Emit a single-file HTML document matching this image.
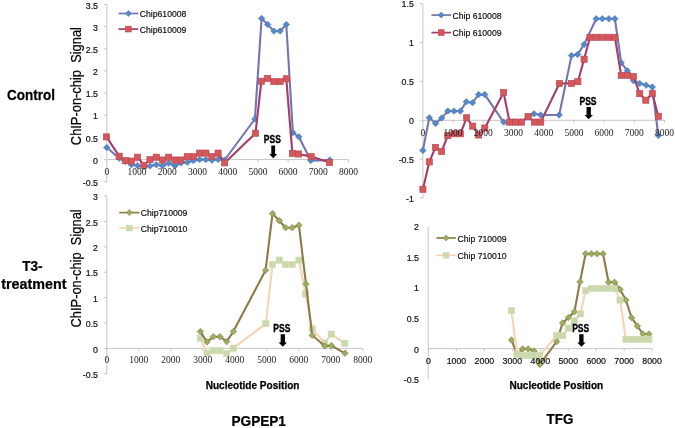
<!DOCTYPE html>
<html lang="en"><head><meta charset="utf-8"><title>ChIP-on-chip signal</title>
<style>
html,body{margin:0;padding:0;background:#fff;}
body{width:675px;height:428px;overflow:hidden;font-family:"Liberation Sans",sans-serif;}
svg{display:block;filter:blur(0.7px);}
</style></head><body>
<svg width="675" height="428" viewBox="0 0 675 428">
<rect width="675" height="428" fill="#fff"/>
<path d="M106.8 4.409999999999997V181.76999999999998" stroke="#c6c6c6" stroke-width="1" fill="none"/>
<path d="M106.8 159.6H348.6" stroke="#c6c6c6" stroke-width="1" fill="none"/>
<path d="M103.8 4.41H106.8" stroke="#c6c6c6" stroke-width="1" fill="none"/>
<path d="M103.8 26.58H106.8" stroke="#c6c6c6" stroke-width="1" fill="none"/>
<path d="M103.8 48.75H106.8" stroke="#c6c6c6" stroke-width="1" fill="none"/>
<path d="M103.8 70.92H106.8" stroke="#c6c6c6" stroke-width="1" fill="none"/>
<path d="M103.8 93.09H106.8" stroke="#c6c6c6" stroke-width="1" fill="none"/>
<path d="M103.8 115.26H106.8" stroke="#c6c6c6" stroke-width="1" fill="none"/>
<path d="M103.8 137.43H106.8" stroke="#c6c6c6" stroke-width="1" fill="none"/>
<path d="M103.8 159.6H106.8" stroke="#c6c6c6" stroke-width="1" fill="none"/>
<path d="M103.8 181.77H106.8" stroke="#c6c6c6" stroke-width="1" fill="none"/>
<path d="M106.8 159.6V162.2" stroke="#c6c6c6" stroke-width="1" fill="none"/>
<path d="M137.02 159.6V162.2" stroke="#c6c6c6" stroke-width="1" fill="none"/>
<path d="M167.24 159.6V162.2" stroke="#c6c6c6" stroke-width="1" fill="none"/>
<path d="M197.46 159.6V162.2" stroke="#c6c6c6" stroke-width="1" fill="none"/>
<path d="M227.68 159.6V162.2" stroke="#c6c6c6" stroke-width="1" fill="none"/>
<path d="M257.9 159.6V162.2" stroke="#c6c6c6" stroke-width="1" fill="none"/>
<path d="M288.12 159.6V162.2" stroke="#c6c6c6" stroke-width="1" fill="none"/>
<path d="M318.34 159.6V162.2" stroke="#c6c6c6" stroke-width="1" fill="none"/>
<path d="M348.56 159.6V162.2" stroke="#c6c6c6" stroke-width="1" fill="none"/>
<path d="M106.8 147.5L119.2 158.2L125.5 161.5L131.4 164.7L137.6 165.7L143.9 166.5L150 165.9L156.3 164.7L162.5 165.7L168.7 163.2L174.9 165.7L181 162.9L187.3 162.3L193.4 160.6L199.7 159.4L205.9 159.6L211.9 160.3L218.1 159.4L224.6 160L254.9 119L261.6 18.4L267.7 24.5L273.9 31.1L280.1 31.1L286.3 24.5L292.9 132.6L298.8 136.8L310.8 160.6L329.8 160" fill="none" stroke="#7077b2" stroke-width="2.1" stroke-linejoin="round" stroke-linecap="round"/>
<path d="M106.8 144.25L110.05 147.5L106.8 150.75L103.55 147.5Z" fill="#5688c7" stroke="#4f7ab8" stroke-width="0.6"/>
<path d="M119.2 154.95L122.45 158.2L119.2 161.45L115.95 158.2Z" fill="#5688c7" stroke="#4f7ab8" stroke-width="0.6"/>
<path d="M125.5 158.25L128.75 161.5L125.5 164.75L122.25 161.5Z" fill="#5688c7" stroke="#4f7ab8" stroke-width="0.6"/>
<path d="M131.4 161.45L134.65 164.7L131.4 167.95L128.15 164.7Z" fill="#5688c7" stroke="#4f7ab8" stroke-width="0.6"/>
<path d="M137.6 162.45L140.85 165.7L137.6 168.95L134.35 165.7Z" fill="#5688c7" stroke="#4f7ab8" stroke-width="0.6"/>
<path d="M143.9 163.25L147.15 166.5L143.9 169.75L140.65 166.5Z" fill="#5688c7" stroke="#4f7ab8" stroke-width="0.6"/>
<path d="M150 162.65L153.25 165.9L150 169.15L146.75 165.9Z" fill="#5688c7" stroke="#4f7ab8" stroke-width="0.6"/>
<path d="M156.3 161.45L159.55 164.7L156.3 167.95L153.05 164.7Z" fill="#5688c7" stroke="#4f7ab8" stroke-width="0.6"/>
<path d="M162.5 162.45L165.75 165.7L162.5 168.95L159.25 165.7Z" fill="#5688c7" stroke="#4f7ab8" stroke-width="0.6"/>
<path d="M168.7 159.95L171.95 163.2L168.7 166.45L165.45 163.2Z" fill="#5688c7" stroke="#4f7ab8" stroke-width="0.6"/>
<path d="M174.9 162.45L178.15 165.7L174.9 168.95L171.65 165.7Z" fill="#5688c7" stroke="#4f7ab8" stroke-width="0.6"/>
<path d="M181 159.65L184.25 162.9L181 166.15L177.75 162.9Z" fill="#5688c7" stroke="#4f7ab8" stroke-width="0.6"/>
<path d="M187.3 159.05L190.55 162.3L187.3 165.55L184.05 162.3Z" fill="#5688c7" stroke="#4f7ab8" stroke-width="0.6"/>
<path d="M193.4 157.35L196.65 160.6L193.4 163.85L190.15 160.6Z" fill="#5688c7" stroke="#4f7ab8" stroke-width="0.6"/>
<path d="M199.7 156.15L202.95 159.4L199.7 162.65L196.45 159.4Z" fill="#5688c7" stroke="#4f7ab8" stroke-width="0.6"/>
<path d="M205.9 156.35L209.15 159.6L205.9 162.85L202.65 159.6Z" fill="#5688c7" stroke="#4f7ab8" stroke-width="0.6"/>
<path d="M211.9 157.05L215.15 160.3L211.9 163.55L208.65 160.3Z" fill="#5688c7" stroke="#4f7ab8" stroke-width="0.6"/>
<path d="M218.1 156.15L221.35 159.4L218.1 162.65L214.85 159.4Z" fill="#5688c7" stroke="#4f7ab8" stroke-width="0.6"/>
<path d="M224.6 156.75L227.85 160L224.6 163.25L221.35 160Z" fill="#5688c7" stroke="#4f7ab8" stroke-width="0.6"/>
<path d="M254.9 115.75L258.15 119L254.9 122.25L251.65 119Z" fill="#5688c7" stroke="#4f7ab8" stroke-width="0.6"/>
<path d="M261.6 15.15L264.85 18.4L261.6 21.65L258.35 18.4Z" fill="#5688c7" stroke="#4f7ab8" stroke-width="0.6"/>
<path d="M267.7 21.25L270.95 24.5L267.7 27.75L264.45 24.5Z" fill="#5688c7" stroke="#4f7ab8" stroke-width="0.6"/>
<path d="M273.9 27.85L277.15 31.1L273.9 34.35L270.65 31.1Z" fill="#5688c7" stroke="#4f7ab8" stroke-width="0.6"/>
<path d="M280.1 27.85L283.35 31.1L280.1 34.35L276.85 31.1Z" fill="#5688c7" stroke="#4f7ab8" stroke-width="0.6"/>
<path d="M286.3 21.25L289.55 24.5L286.3 27.75L283.05 24.5Z" fill="#5688c7" stroke="#4f7ab8" stroke-width="0.6"/>
<path d="M292.9 129.35L296.15 132.6L292.9 135.85L289.65 132.6Z" fill="#5688c7" stroke="#4f7ab8" stroke-width="0.6"/>
<path d="M298.8 133.55L302.05 136.8L298.8 140.05L295.55 136.8Z" fill="#5688c7" stroke="#4f7ab8" stroke-width="0.6"/>
<path d="M310.8 157.35L314.05 160.6L310.8 163.85L307.55 160.6Z" fill="#5688c7" stroke="#4f7ab8" stroke-width="0.6"/>
<path d="M329.8 156.75L333.05 160L329.8 163.25L326.55 160Z" fill="#5688c7" stroke="#4f7ab8" stroke-width="0.6"/>
<path d="M106.5 136.9L119.2 156.2L125.5 160.6L131.4 161.1L137.6 157.2L143.9 165.3L150 159.6L156.3 157.2L162.5 160L168.6 157.2L174.9 160L181 160L187.3 156.6L193.4 156.6L199.7 153.1L205.9 153.1L211.9 156.6L218.1 153.1L224.6 162.9L255.5 133.2L261.4 81.2L267.7 78.4L273.9 81.6L280.1 81.6L286.3 78.8L292.4 153.4L298.6 154L311.1 156.6L329.5 162.6" fill="none" stroke="#a63c68" stroke-width="2.1" stroke-linejoin="round" stroke-linecap="round"/>
<rect x="103.4" y="133.8" width="6.2" height="6.2" fill="#d4585a" stroke="#b8475a" stroke-width="0.6"/>
<rect x="116.1" y="153.1" width="6.2" height="6.2" fill="#d4585a" stroke="#b8475a" stroke-width="0.6"/>
<rect x="122.4" y="157.5" width="6.2" height="6.2" fill="#d4585a" stroke="#b8475a" stroke-width="0.6"/>
<rect x="128.3" y="158" width="6.2" height="6.2" fill="#d4585a" stroke="#b8475a" stroke-width="0.6"/>
<rect x="134.5" y="154.1" width="6.2" height="6.2" fill="#d4585a" stroke="#b8475a" stroke-width="0.6"/>
<rect x="140.8" y="162.2" width="6.2" height="6.2" fill="#d4585a" stroke="#b8475a" stroke-width="0.6"/>
<rect x="146.9" y="156.5" width="6.2" height="6.2" fill="#d4585a" stroke="#b8475a" stroke-width="0.6"/>
<rect x="153.2" y="154.1" width="6.2" height="6.2" fill="#d4585a" stroke="#b8475a" stroke-width="0.6"/>
<rect x="159.4" y="156.9" width="6.2" height="6.2" fill="#d4585a" stroke="#b8475a" stroke-width="0.6"/>
<rect x="165.5" y="154.1" width="6.2" height="6.2" fill="#d4585a" stroke="#b8475a" stroke-width="0.6"/>
<rect x="171.8" y="156.9" width="6.2" height="6.2" fill="#d4585a" stroke="#b8475a" stroke-width="0.6"/>
<rect x="177.9" y="156.9" width="6.2" height="6.2" fill="#d4585a" stroke="#b8475a" stroke-width="0.6"/>
<rect x="184.2" y="153.5" width="6.2" height="6.2" fill="#d4585a" stroke="#b8475a" stroke-width="0.6"/>
<rect x="190.3" y="153.5" width="6.2" height="6.2" fill="#d4585a" stroke="#b8475a" stroke-width="0.6"/>
<rect x="196.6" y="150" width="6.2" height="6.2" fill="#d4585a" stroke="#b8475a" stroke-width="0.6"/>
<rect x="202.8" y="150" width="6.2" height="6.2" fill="#d4585a" stroke="#b8475a" stroke-width="0.6"/>
<rect x="208.8" y="153.5" width="6.2" height="6.2" fill="#d4585a" stroke="#b8475a" stroke-width="0.6"/>
<rect x="215" y="150" width="6.2" height="6.2" fill="#d4585a" stroke="#b8475a" stroke-width="0.6"/>
<rect x="221.5" y="159.8" width="6.2" height="6.2" fill="#d4585a" stroke="#b8475a" stroke-width="0.6"/>
<rect x="252.4" y="130.1" width="6.2" height="6.2" fill="#d4585a" stroke="#b8475a" stroke-width="0.6"/>
<rect x="258.3" y="78.1" width="6.2" height="6.2" fill="#d4585a" stroke="#b8475a" stroke-width="0.6"/>
<rect x="264.6" y="75.3" width="6.2" height="6.2" fill="#d4585a" stroke="#b8475a" stroke-width="0.6"/>
<rect x="270.8" y="78.5" width="6.2" height="6.2" fill="#d4585a" stroke="#b8475a" stroke-width="0.6"/>
<rect x="277" y="78.5" width="6.2" height="6.2" fill="#d4585a" stroke="#b8475a" stroke-width="0.6"/>
<rect x="283.2" y="75.7" width="6.2" height="6.2" fill="#d4585a" stroke="#b8475a" stroke-width="0.6"/>
<rect x="289.3" y="150.3" width="6.2" height="6.2" fill="#d4585a" stroke="#b8475a" stroke-width="0.6"/>
<rect x="295.5" y="150.9" width="6.2" height="6.2" fill="#d4585a" stroke="#b8475a" stroke-width="0.6"/>
<rect x="308" y="153.5" width="6.2" height="6.2" fill="#d4585a" stroke="#b8475a" stroke-width="0.6"/>
<rect x="326.4" y="159.5" width="6.2" height="6.2" fill="#d4585a" stroke="#b8475a" stroke-width="0.6"/>
<path d="M118.5 13.5L138.2 13.5" stroke="#7077b2" stroke-width="1.7" fill="none"/>
<path d="M128.35 10.5L131.35 13.5L128.35 16.5L125.35 13.5Z" fill="#5688c7" stroke="#4f7ab8" stroke-width="0.6"/>
<text x="139.8" y="17.1" font-family='"Liberation Sans", sans-serif' font-size="8.65" fill="#0d0d0d" stroke="#0d0d0d" stroke-width="0.18">Chip610008</text>
<path d="M118.5 29.1L138.2 29.1" stroke="#a63c68" stroke-width="1.7" fill="none"/>
<rect x="125.45" y="26.2" width="5.8" height="5.8" fill="#d4585a" stroke="#b8475a" stroke-width="0.6"/>
<text x="139.8" y="32.7" font-family='"Liberation Sans", sans-serif' font-size="8.65" fill="#0d0d0d" stroke="#0d0d0d" stroke-width="0.18">Chip610009</text>
<path d="M422.9 3.6000000000000085V198.1" stroke="#c6c6c6" stroke-width="1" fill="none"/>
<path d="M422.9 120.3H664.6" stroke="#c6c6c6" stroke-width="1" fill="none"/>
<path d="M419.9 3.6H422.9" stroke="#c6c6c6" stroke-width="1" fill="none"/>
<path d="M419.9 42.5H422.9" stroke="#c6c6c6" stroke-width="1" fill="none"/>
<path d="M419.9 81.4H422.9" stroke="#c6c6c6" stroke-width="1" fill="none"/>
<path d="M419.9 120.3H422.9" stroke="#c6c6c6" stroke-width="1" fill="none"/>
<path d="M419.9 159.2H422.9" stroke="#c6c6c6" stroke-width="1" fill="none"/>
<path d="M419.9 198.1H422.9" stroke="#c6c6c6" stroke-width="1" fill="none"/>
<path d="M422.9 120.3V122.9" stroke="#c6c6c6" stroke-width="1" fill="none"/>
<path d="M453.1 120.3V122.9" stroke="#c6c6c6" stroke-width="1" fill="none"/>
<path d="M483.3 120.3V122.9" stroke="#c6c6c6" stroke-width="1" fill="none"/>
<path d="M513.5 120.3V122.9" stroke="#c6c6c6" stroke-width="1" fill="none"/>
<path d="M543.7 120.3V122.9" stroke="#c6c6c6" stroke-width="1" fill="none"/>
<path d="M573.9 120.3V122.9" stroke="#c6c6c6" stroke-width="1" fill="none"/>
<path d="M604.1 120.3V122.9" stroke="#c6c6c6" stroke-width="1" fill="none"/>
<path d="M634.3 120.3V122.9" stroke="#c6c6c6" stroke-width="1" fill="none"/>
<path d="M664.5 120.3V122.9" stroke="#c6c6c6" stroke-width="1" fill="none"/>
<path d="M422.9 150.4L429.3 117.8L435.5 123.4L441.6 118.1L447.8 111.1L454 111.1L460.4 111.1L466.3 101.8L472.5 102.7L478.6 94.6L484.8 94.6L503.6 122.1L509.6 122.1L515.5 122.1L521.4 122.1L528.1 117L534 113.8L540.7 115L559.2 115L571.5 55.6L577.7 54.4L584.1 44.4L596.2 18.8L602.3 18.8L608.8 18.8L614.9 18.8L621.2 62.7L627.3 70.7L633.5 80.7L639.7 83.4L646.1 85.2L652.3 87L658.3 135.6" fill="none" stroke="#7077b2" stroke-width="2.1" stroke-linejoin="round" stroke-linecap="round"/>
<path d="M422.9 147.15L426.15 150.4L422.9 153.65L419.65 150.4Z" fill="#5688c7" stroke="#4f7ab8" stroke-width="0.6"/>
<path d="M429.3 114.55L432.55 117.8L429.3 121.05L426.05 117.8Z" fill="#5688c7" stroke="#4f7ab8" stroke-width="0.6"/>
<path d="M435.5 120.15L438.75 123.4L435.5 126.65L432.25 123.4Z" fill="#5688c7" stroke="#4f7ab8" stroke-width="0.6"/>
<path d="M441.6 114.85L444.85 118.1L441.6 121.35L438.35 118.1Z" fill="#5688c7" stroke="#4f7ab8" stroke-width="0.6"/>
<path d="M447.8 107.85L451.05 111.1L447.8 114.35L444.55 111.1Z" fill="#5688c7" stroke="#4f7ab8" stroke-width="0.6"/>
<path d="M454 107.85L457.25 111.1L454 114.35L450.75 111.1Z" fill="#5688c7" stroke="#4f7ab8" stroke-width="0.6"/>
<path d="M460.4 107.85L463.65 111.1L460.4 114.35L457.15 111.1Z" fill="#5688c7" stroke="#4f7ab8" stroke-width="0.6"/>
<path d="M466.3 98.55L469.55 101.8L466.3 105.05L463.05 101.8Z" fill="#5688c7" stroke="#4f7ab8" stroke-width="0.6"/>
<path d="M472.5 99.45L475.75 102.7L472.5 105.95L469.25 102.7Z" fill="#5688c7" stroke="#4f7ab8" stroke-width="0.6"/>
<path d="M478.6 91.35L481.85 94.6L478.6 97.85L475.35 94.6Z" fill="#5688c7" stroke="#4f7ab8" stroke-width="0.6"/>
<path d="M484.8 91.35L488.05 94.6L484.8 97.85L481.55 94.6Z" fill="#5688c7" stroke="#4f7ab8" stroke-width="0.6"/>
<path d="M503.6 118.85L506.85 122.1L503.6 125.35L500.35 122.1Z" fill="#5688c7" stroke="#4f7ab8" stroke-width="0.6"/>
<path d="M509.6 118.85L512.85 122.1L509.6 125.35L506.35 122.1Z" fill="#5688c7" stroke="#4f7ab8" stroke-width="0.6"/>
<path d="M515.5 118.85L518.75 122.1L515.5 125.35L512.25 122.1Z" fill="#5688c7" stroke="#4f7ab8" stroke-width="0.6"/>
<path d="M521.4 118.85L524.65 122.1L521.4 125.35L518.15 122.1Z" fill="#5688c7" stroke="#4f7ab8" stroke-width="0.6"/>
<path d="M528.1 113.75L531.35 117L528.1 120.25L524.85 117Z" fill="#5688c7" stroke="#4f7ab8" stroke-width="0.6"/>
<path d="M534 110.55L537.25 113.8L534 117.05L530.75 113.8Z" fill="#5688c7" stroke="#4f7ab8" stroke-width="0.6"/>
<path d="M540.7 111.75L543.95 115L540.7 118.25L537.45 115Z" fill="#5688c7" stroke="#4f7ab8" stroke-width="0.6"/>
<path d="M559.2 111.75L562.45 115L559.2 118.25L555.95 115Z" fill="#5688c7" stroke="#4f7ab8" stroke-width="0.6"/>
<path d="M571.5 52.35L574.75 55.6L571.5 58.85L568.25 55.6Z" fill="#5688c7" stroke="#4f7ab8" stroke-width="0.6"/>
<path d="M577.7 51.15L580.95 54.4L577.7 57.65L574.45 54.4Z" fill="#5688c7" stroke="#4f7ab8" stroke-width="0.6"/>
<path d="M584.1 41.15L587.35 44.4L584.1 47.65L580.85 44.4Z" fill="#5688c7" stroke="#4f7ab8" stroke-width="0.6"/>
<path d="M596.2 15.55L599.45 18.8L596.2 22.05L592.95 18.8Z" fill="#5688c7" stroke="#4f7ab8" stroke-width="0.6"/>
<path d="M602.3 15.55L605.55 18.8L602.3 22.05L599.05 18.8Z" fill="#5688c7" stroke="#4f7ab8" stroke-width="0.6"/>
<path d="M608.8 15.55L612.05 18.8L608.8 22.05L605.55 18.8Z" fill="#5688c7" stroke="#4f7ab8" stroke-width="0.6"/>
<path d="M614.9 15.55L618.15 18.8L614.9 22.05L611.65 18.8Z" fill="#5688c7" stroke="#4f7ab8" stroke-width="0.6"/>
<path d="M621.2 59.45L624.45 62.7L621.2 65.95L617.95 62.7Z" fill="#5688c7" stroke="#4f7ab8" stroke-width="0.6"/>
<path d="M627.3 67.45L630.55 70.7L627.3 73.95L624.05 70.7Z" fill="#5688c7" stroke="#4f7ab8" stroke-width="0.6"/>
<path d="M633.5 77.45L636.75 80.7L633.5 83.95L630.25 80.7Z" fill="#5688c7" stroke="#4f7ab8" stroke-width="0.6"/>
<path d="M639.7 80.15L642.95 83.4L639.7 86.65L636.45 83.4Z" fill="#5688c7" stroke="#4f7ab8" stroke-width="0.6"/>
<path d="M646.1 81.95L649.35 85.2L646.1 88.45L642.85 85.2Z" fill="#5688c7" stroke="#4f7ab8" stroke-width="0.6"/>
<path d="M652.3 83.75L655.55 87L652.3 90.25L649.05 87Z" fill="#5688c7" stroke="#4f7ab8" stroke-width="0.6"/>
<path d="M658.3 132.35L661.55 135.6L658.3 138.85L655.05 135.6Z" fill="#5688c7" stroke="#4f7ab8" stroke-width="0.6"/>
<path d="M422.9 189.3L429.3 161.9L435.5 147.4L441.6 151.5L447.8 135.6L454 133.8L460.4 133.8L466.6 117.8L472.7 126.1L478.6 135L484.8 128L503.6 92.5L509.6 122.1L515.5 122.1L521.4 122.1L528.1 116.5L534.4 122.1L540.7 122.1L559.4 83.5L571.5 83.4L577.9 81.7L584.1 59.2L590 37.3L596.2 37.3L602.3 37.3L608.8 37.3L614.9 37.3L621.2 75.4L627.3 75.4L633.5 76.5L639.7 93.6L645.8 100.2L652.3 93.6L658.3 116.3" fill="none" stroke="#a63c68" stroke-width="2.1" stroke-linejoin="round" stroke-linecap="round"/>
<rect x="419.8" y="186.2" width="6.2" height="6.2" fill="#d4585a" stroke="#b8475a" stroke-width="0.6"/>
<rect x="426.2" y="158.8" width="6.2" height="6.2" fill="#d4585a" stroke="#b8475a" stroke-width="0.6"/>
<rect x="432.4" y="144.3" width="6.2" height="6.2" fill="#d4585a" stroke="#b8475a" stroke-width="0.6"/>
<rect x="438.5" y="148.4" width="6.2" height="6.2" fill="#d4585a" stroke="#b8475a" stroke-width="0.6"/>
<rect x="444.7" y="132.5" width="6.2" height="6.2" fill="#d4585a" stroke="#b8475a" stroke-width="0.6"/>
<rect x="450.9" y="130.7" width="6.2" height="6.2" fill="#d4585a" stroke="#b8475a" stroke-width="0.6"/>
<rect x="457.3" y="130.7" width="6.2" height="6.2" fill="#d4585a" stroke="#b8475a" stroke-width="0.6"/>
<rect x="463.5" y="114.7" width="6.2" height="6.2" fill="#d4585a" stroke="#b8475a" stroke-width="0.6"/>
<rect x="469.6" y="123" width="6.2" height="6.2" fill="#d4585a" stroke="#b8475a" stroke-width="0.6"/>
<rect x="475.5" y="131.9" width="6.2" height="6.2" fill="#d4585a" stroke="#b8475a" stroke-width="0.6"/>
<rect x="481.7" y="124.9" width="6.2" height="6.2" fill="#d4585a" stroke="#b8475a" stroke-width="0.6"/>
<rect x="500.5" y="89.4" width="6.2" height="6.2" fill="#d4585a" stroke="#b8475a" stroke-width="0.6"/>
<rect x="506.5" y="119" width="6.2" height="6.2" fill="#d4585a" stroke="#b8475a" stroke-width="0.6"/>
<rect x="512.4" y="119" width="6.2" height="6.2" fill="#d4585a" stroke="#b8475a" stroke-width="0.6"/>
<rect x="518.3" y="119" width="6.2" height="6.2" fill="#d4585a" stroke="#b8475a" stroke-width="0.6"/>
<rect x="525" y="113.4" width="6.2" height="6.2" fill="#d4585a" stroke="#b8475a" stroke-width="0.6"/>
<rect x="531.3" y="119" width="6.2" height="6.2" fill="#d4585a" stroke="#b8475a" stroke-width="0.6"/>
<rect x="537.6" y="119" width="6.2" height="6.2" fill="#d4585a" stroke="#b8475a" stroke-width="0.6"/>
<rect x="556.3" y="80.4" width="6.2" height="6.2" fill="#d4585a" stroke="#b8475a" stroke-width="0.6"/>
<rect x="568.4" y="80.3" width="6.2" height="6.2" fill="#d4585a" stroke="#b8475a" stroke-width="0.6"/>
<rect x="574.8" y="78.6" width="6.2" height="6.2" fill="#d4585a" stroke="#b8475a" stroke-width="0.6"/>
<rect x="581" y="56.1" width="6.2" height="6.2" fill="#d4585a" stroke="#b8475a" stroke-width="0.6"/>
<rect x="586.9" y="34.2" width="6.2" height="6.2" fill="#d4585a" stroke="#b8475a" stroke-width="0.6"/>
<rect x="593.1" y="34.2" width="6.2" height="6.2" fill="#d4585a" stroke="#b8475a" stroke-width="0.6"/>
<rect x="599.2" y="34.2" width="6.2" height="6.2" fill="#d4585a" stroke="#b8475a" stroke-width="0.6"/>
<rect x="605.7" y="34.2" width="6.2" height="6.2" fill="#d4585a" stroke="#b8475a" stroke-width="0.6"/>
<rect x="611.8" y="34.2" width="6.2" height="6.2" fill="#d4585a" stroke="#b8475a" stroke-width="0.6"/>
<rect x="618.1" y="72.3" width="6.2" height="6.2" fill="#d4585a" stroke="#b8475a" stroke-width="0.6"/>
<rect x="624.2" y="72.3" width="6.2" height="6.2" fill="#d4585a" stroke="#b8475a" stroke-width="0.6"/>
<rect x="630.4" y="73.4" width="6.2" height="6.2" fill="#d4585a" stroke="#b8475a" stroke-width="0.6"/>
<rect x="636.6" y="90.5" width="6.2" height="6.2" fill="#d4585a" stroke="#b8475a" stroke-width="0.6"/>
<rect x="642.7" y="97.1" width="6.2" height="6.2" fill="#d4585a" stroke="#b8475a" stroke-width="0.6"/>
<rect x="649.2" y="90.5" width="6.2" height="6.2" fill="#d4585a" stroke="#b8475a" stroke-width="0.6"/>
<rect x="655.2" y="113.2" width="6.2" height="6.2" fill="#d4585a" stroke="#b8475a" stroke-width="0.6"/>
<path d="M431.4 15.1L451 15.1" stroke="#7077b2" stroke-width="1.7" fill="none"/>
<path d="M441.2 12.1L444.2 15.1L441.2 18.1L438.2 15.1Z" fill="#5688c7" stroke="#4f7ab8" stroke-width="0.6"/>
<text x="452.6" y="18.7" font-family='"Liberation Sans", sans-serif' font-size="8.65" fill="#0d0d0d" stroke="#0d0d0d" stroke-width="0.18">Chip 610008</text>
<path d="M431.4 32.6L451 32.6" stroke="#a63c68" stroke-width="1.7" fill="none"/>
<rect x="438.3" y="29.7" width="5.8" height="5.8" fill="#d4585a" stroke="#b8475a" stroke-width="0.6"/>
<text x="452.6" y="36.2" font-family='"Liberation Sans", sans-serif' font-size="8.65" fill="#0d0d0d" stroke="#0d0d0d" stroke-width="0.18">Chip 610009</text>
<path d="M106.8 196.0V373.79999999999995" stroke="#c6c6c6" stroke-width="1" fill="none"/>
<path d="M106.8 348.4H362.8" stroke="#c6c6c6" stroke-width="1" fill="none"/>
<path d="M103.8 196H106.8" stroke="#c6c6c6" stroke-width="1" fill="none"/>
<path d="M103.8 221.4H106.8" stroke="#c6c6c6" stroke-width="1" fill="none"/>
<path d="M103.8 246.8H106.8" stroke="#c6c6c6" stroke-width="1" fill="none"/>
<path d="M103.8 272.2H106.8" stroke="#c6c6c6" stroke-width="1" fill="none"/>
<path d="M103.8 297.6H106.8" stroke="#c6c6c6" stroke-width="1" fill="none"/>
<path d="M103.8 323H106.8" stroke="#c6c6c6" stroke-width="1" fill="none"/>
<path d="M103.8 348.4H106.8" stroke="#c6c6c6" stroke-width="1" fill="none"/>
<path d="M103.8 373.8H106.8" stroke="#c6c6c6" stroke-width="1" fill="none"/>
<path d="M106.8 348.4V351" stroke="#c6c6c6" stroke-width="1" fill="none"/>
<path d="M138.8 348.4V351" stroke="#c6c6c6" stroke-width="1" fill="none"/>
<path d="M170.8 348.4V351" stroke="#c6c6c6" stroke-width="1" fill="none"/>
<path d="M202.8 348.4V351" stroke="#c6c6c6" stroke-width="1" fill="none"/>
<path d="M234.8 348.4V351" stroke="#c6c6c6" stroke-width="1" fill="none"/>
<path d="M266.8 348.4V351" stroke="#c6c6c6" stroke-width="1" fill="none"/>
<path d="M298.8 348.4V351" stroke="#c6c6c6" stroke-width="1" fill="none"/>
<path d="M330.8 348.4V351" stroke="#c6c6c6" stroke-width="1" fill="none"/>
<path d="M362.8 348.4V351" stroke="#c6c6c6" stroke-width="1" fill="none"/>
<path d="M200.3 338.2L207 353.3L213.3 350.7L220 350.7L226.7 353.6L233.3 348.1L265.9 323.7L272.5 264.5L279.3 260.1L285.6 264.5L292.2 264.5L298.9 260.1L305.6 294L312.2 328.9L324.8 343L331.2 334.1L344.8 343.4" fill="none" stroke="#f6d4b2" stroke-width="2.1" stroke-linejoin="round" stroke-linecap="round"/>
<rect x="197.2" y="335.1" width="6.2" height="6.2" fill="#cad8ab" stroke="#d2dcb4" stroke-width="0.6"/>
<rect x="203.9" y="350.2" width="6.2" height="6.2" fill="#cad8ab" stroke="#d2dcb4" stroke-width="0.6"/>
<rect x="210.2" y="347.6" width="6.2" height="6.2" fill="#cad8ab" stroke="#d2dcb4" stroke-width="0.6"/>
<rect x="216.9" y="347.6" width="6.2" height="6.2" fill="#cad8ab" stroke="#d2dcb4" stroke-width="0.6"/>
<rect x="223.6" y="350.5" width="6.2" height="6.2" fill="#cad8ab" stroke="#d2dcb4" stroke-width="0.6"/>
<rect x="230.2" y="345" width="6.2" height="6.2" fill="#cad8ab" stroke="#d2dcb4" stroke-width="0.6"/>
<rect x="262.8" y="320.6" width="6.2" height="6.2" fill="#cad8ab" stroke="#d2dcb4" stroke-width="0.6"/>
<rect x="269.4" y="261.4" width="6.2" height="6.2" fill="#cad8ab" stroke="#d2dcb4" stroke-width="0.6"/>
<rect x="276.2" y="257" width="6.2" height="6.2" fill="#cad8ab" stroke="#d2dcb4" stroke-width="0.6"/>
<rect x="282.5" y="261.4" width="6.2" height="6.2" fill="#cad8ab" stroke="#d2dcb4" stroke-width="0.6"/>
<rect x="289.1" y="261.4" width="6.2" height="6.2" fill="#cad8ab" stroke="#d2dcb4" stroke-width="0.6"/>
<rect x="295.8" y="257" width="6.2" height="6.2" fill="#cad8ab" stroke="#d2dcb4" stroke-width="0.6"/>
<rect x="302.5" y="290.9" width="6.2" height="6.2" fill="#cad8ab" stroke="#d2dcb4" stroke-width="0.6"/>
<rect x="309.1" y="325.8" width="6.2" height="6.2" fill="#cad8ab" stroke="#d2dcb4" stroke-width="0.6"/>
<rect x="321.7" y="339.9" width="6.2" height="6.2" fill="#cad8ab" stroke="#d2dcb4" stroke-width="0.6"/>
<rect x="328.1" y="331" width="6.2" height="6.2" fill="#cad8ab" stroke="#d2dcb4" stroke-width="0.6"/>
<rect x="341.7" y="340.3" width="6.2" height="6.2" fill="#cad8ab" stroke="#d2dcb4" stroke-width="0.6"/>
<path d="M200.3 331.6L207 341.9L213.3 336.7L220 336.7L226.7 341.5L233.3 331.6L265.6 270.3L272.5 213.6L279.3 220.7L285.6 227.7L292.2 227.7L298.9 225.2L306 284.1L312.2 335.3L324.8 346L331.4 345.6L345 353.3" fill="none" stroke="#8d7b47" stroke-width="2.1" stroke-linejoin="round" stroke-linecap="round"/>
<path d="M200.3 328.35L203.55 331.6L200.3 334.85L197.05 331.6Z" fill="#9bad5f" stroke="#8a8048" stroke-width="0.6"/>
<path d="M207 338.65L210.25 341.9L207 345.15L203.75 341.9Z" fill="#9bad5f" stroke="#8a8048" stroke-width="0.6"/>
<path d="M213.3 333.45L216.55 336.7L213.3 339.95L210.05 336.7Z" fill="#9bad5f" stroke="#8a8048" stroke-width="0.6"/>
<path d="M220 333.45L223.25 336.7L220 339.95L216.75 336.7Z" fill="#9bad5f" stroke="#8a8048" stroke-width="0.6"/>
<path d="M226.7 338.25L229.95 341.5L226.7 344.75L223.45 341.5Z" fill="#9bad5f" stroke="#8a8048" stroke-width="0.6"/>
<path d="M233.3 328.35L236.55 331.6L233.3 334.85L230.05 331.6Z" fill="#9bad5f" stroke="#8a8048" stroke-width="0.6"/>
<path d="M265.6 267.05L268.85 270.3L265.6 273.55L262.35 270.3Z" fill="#9bad5f" stroke="#8a8048" stroke-width="0.6"/>
<path d="M272.5 210.35L275.75 213.6L272.5 216.85L269.25 213.6Z" fill="#9bad5f" stroke="#8a8048" stroke-width="0.6"/>
<path d="M279.3 217.45L282.55 220.7L279.3 223.95L276.05 220.7Z" fill="#9bad5f" stroke="#8a8048" stroke-width="0.6"/>
<path d="M285.6 224.45L288.85 227.7L285.6 230.95L282.35 227.7Z" fill="#9bad5f" stroke="#8a8048" stroke-width="0.6"/>
<path d="M292.2 224.45L295.45 227.7L292.2 230.95L288.95 227.7Z" fill="#9bad5f" stroke="#8a8048" stroke-width="0.6"/>
<path d="M298.9 221.95L302.15 225.2L298.9 228.45L295.65 225.2Z" fill="#9bad5f" stroke="#8a8048" stroke-width="0.6"/>
<path d="M306 280.85L309.25 284.1L306 287.35L302.75 284.1Z" fill="#9bad5f" stroke="#8a8048" stroke-width="0.6"/>
<path d="M312.2 332.05L315.45 335.3L312.2 338.55L308.95 335.3Z" fill="#9bad5f" stroke="#8a8048" stroke-width="0.6"/>
<path d="M324.8 342.75L328.05 346L324.8 349.25L321.55 346Z" fill="#9bad5f" stroke="#8a8048" stroke-width="0.6"/>
<path d="M331.4 342.35L334.65 345.6L331.4 348.85L328.15 345.6Z" fill="#9bad5f" stroke="#8a8048" stroke-width="0.6"/>
<path d="M345 350.05L348.25 353.3L345 356.55L341.75 353.3Z" fill="#9bad5f" stroke="#8a8048" stroke-width="0.6"/>
<path d="M119.3 212.6L139.3 212.6" stroke="#8d7b47" stroke-width="1.7" fill="none"/>
<path d="M129.3 209.6L132.3 212.6L129.3 215.6L126.3 212.6Z" fill="#9bad5f" stroke="#8a8048" stroke-width="0.6"/>
<text x="140.8" y="216.2" font-family='"Liberation Sans", sans-serif' font-size="8.65" fill="#0d0d0d" stroke="#0d0d0d" stroke-width="0.18">Chip710009</text>
<path d="M119.3 228.1L139.3 228.1" stroke="#f6d4b2" stroke-width="1.7" fill="none"/>
<rect x="126.4" y="225.2" width="5.8" height="5.8" fill="#cad8ab" stroke="#d2dcb4" stroke-width="0.6"/>
<text x="140.8" y="231.7" font-family='"Liberation Sans", sans-serif' font-size="8.65" fill="#0d0d0d" stroke="#0d0d0d" stroke-width="0.18">Chip710010</text>
<path d="M428.2 226.24V379.44" stroke="#c6c6c6" stroke-width="1" fill="none"/>
<path d="M428.2 348.6H652" stroke="#c6c6c6" stroke-width="1" fill="none"/>
<path d="M428.5 348.6V351.2" stroke="#c6c6c6" stroke-width="1" fill="none"/>
<path d="M456.45 348.6V351.2" stroke="#c6c6c6" stroke-width="1" fill="none"/>
<path d="M484.4 348.6V351.2" stroke="#c6c6c6" stroke-width="1" fill="none"/>
<path d="M512.35 348.6V351.2" stroke="#c6c6c6" stroke-width="1" fill="none"/>
<path d="M540.3 348.6V351.2" stroke="#c6c6c6" stroke-width="1" fill="none"/>
<path d="M568.25 348.6V351.2" stroke="#c6c6c6" stroke-width="1" fill="none"/>
<path d="M596.2 348.6V351.2" stroke="#c6c6c6" stroke-width="1" fill="none"/>
<path d="M624.15 348.6V351.2" stroke="#c6c6c6" stroke-width="1" fill="none"/>
<path d="M652.1 348.6V351.2" stroke="#c6c6c6" stroke-width="1" fill="none"/>
<path d="M511.5 340L517 354L522.6 348.9L528.2 348.9L534.1 351L539.9 364.4L556.7 341.5L562.6 323L568.5 317.5L574.4 311.7L580 281.9L585.6 253.8L591.4 253.8L597 253.8L603 253.8L608.6 282.2L614.5 282.2L620 289.5L625.9 300.1L631.6 317.7L637.3 326L643 334L648.9 334" fill="none" stroke="#8d7b47" stroke-width="2.1" stroke-linejoin="round" stroke-linecap="round"/>
<path d="M511.5 336.75L514.75 340L511.5 343.25L508.25 340Z" fill="#9bad5f" stroke="#8a8048" stroke-width="0.6"/>
<path d="M517 350.75L520.25 354L517 357.25L513.75 354Z" fill="#9bad5f" stroke="#8a8048" stroke-width="0.6"/>
<path d="M522.6 345.65L525.85 348.9L522.6 352.15L519.35 348.9Z" fill="#9bad5f" stroke="#8a8048" stroke-width="0.6"/>
<path d="M528.2 345.65L531.45 348.9L528.2 352.15L524.95 348.9Z" fill="#9bad5f" stroke="#8a8048" stroke-width="0.6"/>
<path d="M534.1 347.75L537.35 351L534.1 354.25L530.85 351Z" fill="#9bad5f" stroke="#8a8048" stroke-width="0.6"/>
<path d="M539.9 361.15L543.15 364.4L539.9 367.65L536.65 364.4Z" fill="#9bad5f" stroke="#8a8048" stroke-width="0.6"/>
<path d="M556.7 338.25L559.95 341.5L556.7 344.75L553.45 341.5Z" fill="#9bad5f" stroke="#8a8048" stroke-width="0.6"/>
<path d="M562.6 319.75L565.85 323L562.6 326.25L559.35 323Z" fill="#9bad5f" stroke="#8a8048" stroke-width="0.6"/>
<path d="M568.5 314.25L571.75 317.5L568.5 320.75L565.25 317.5Z" fill="#9bad5f" stroke="#8a8048" stroke-width="0.6"/>
<path d="M574.4 308.45L577.65 311.7L574.4 314.95L571.15 311.7Z" fill="#9bad5f" stroke="#8a8048" stroke-width="0.6"/>
<path d="M580 278.65L583.25 281.9L580 285.15L576.75 281.9Z" fill="#9bad5f" stroke="#8a8048" stroke-width="0.6"/>
<path d="M585.6 250.55L588.85 253.8L585.6 257.05L582.35 253.8Z" fill="#9bad5f" stroke="#8a8048" stroke-width="0.6"/>
<path d="M591.4 250.55L594.65 253.8L591.4 257.05L588.15 253.8Z" fill="#9bad5f" stroke="#8a8048" stroke-width="0.6"/>
<path d="M597 250.55L600.25 253.8L597 257.05L593.75 253.8Z" fill="#9bad5f" stroke="#8a8048" stroke-width="0.6"/>
<path d="M603 250.55L606.25 253.8L603 257.05L599.75 253.8Z" fill="#9bad5f" stroke="#8a8048" stroke-width="0.6"/>
<path d="M608.6 278.95L611.85 282.2L608.6 285.45L605.35 282.2Z" fill="#9bad5f" stroke="#8a8048" stroke-width="0.6"/>
<path d="M614.5 278.95L617.75 282.2L614.5 285.45L611.25 282.2Z" fill="#9bad5f" stroke="#8a8048" stroke-width="0.6"/>
<path d="M620 286.25L623.25 289.5L620 292.75L616.75 289.5Z" fill="#9bad5f" stroke="#8a8048" stroke-width="0.6"/>
<path d="M625.9 296.85L629.15 300.1L625.9 303.35L622.65 300.1Z" fill="#9bad5f" stroke="#8a8048" stroke-width="0.6"/>
<path d="M631.6 314.45L634.85 317.7L631.6 320.95L628.35 317.7Z" fill="#9bad5f" stroke="#8a8048" stroke-width="0.6"/>
<path d="M637.3 322.75L640.55 326L637.3 329.25L634.05 326Z" fill="#9bad5f" stroke="#8a8048" stroke-width="0.6"/>
<path d="M643 330.75L646.25 334L643 337.25L639.75 334Z" fill="#9bad5f" stroke="#8a8048" stroke-width="0.6"/>
<path d="M648.9 330.75L652.15 334L648.9 337.25L645.65 334Z" fill="#9bad5f" stroke="#8a8048" stroke-width="0.6"/>
<path d="M511.5 310.7L517 354.4L522.6 355.4L528.2 355.4L534.1 355.4L539.6 355.4L556.7 335.6L562.6 335.6L568.5 328.1L574.4 320.9L580.4 313.9L585.6 290.6L591.4 288.5L597 288.5L603 288.5L608.6 288.5L614.5 288.5L620 300.1L625.9 339.3L631.6 339.3L637.3 339.3L643 339.3L648.9 339.3" fill="none" stroke="#f6d4b2" stroke-width="2.1" stroke-linejoin="round" stroke-linecap="round"/>
<rect x="508.4" y="307.6" width="6.2" height="6.2" fill="#cad8ab" stroke="#d2dcb4" stroke-width="0.6"/>
<rect x="513.9" y="351.3" width="6.2" height="6.2" fill="#cad8ab" stroke="#d2dcb4" stroke-width="0.6"/>
<rect x="519.5" y="352.3" width="6.2" height="6.2" fill="#cad8ab" stroke="#d2dcb4" stroke-width="0.6"/>
<rect x="525.1" y="352.3" width="6.2" height="6.2" fill="#cad8ab" stroke="#d2dcb4" stroke-width="0.6"/>
<rect x="531" y="352.3" width="6.2" height="6.2" fill="#cad8ab" stroke="#d2dcb4" stroke-width="0.6"/>
<rect x="536.5" y="352.3" width="6.2" height="6.2" fill="#cad8ab" stroke="#d2dcb4" stroke-width="0.6"/>
<rect x="553.6" y="332.5" width="6.2" height="6.2" fill="#cad8ab" stroke="#d2dcb4" stroke-width="0.6"/>
<rect x="559.5" y="332.5" width="6.2" height="6.2" fill="#cad8ab" stroke="#d2dcb4" stroke-width="0.6"/>
<rect x="565.4" y="325" width="6.2" height="6.2" fill="#cad8ab" stroke="#d2dcb4" stroke-width="0.6"/>
<rect x="571.3" y="317.8" width="6.2" height="6.2" fill="#cad8ab" stroke="#d2dcb4" stroke-width="0.6"/>
<rect x="577.3" y="310.8" width="6.2" height="6.2" fill="#cad8ab" stroke="#d2dcb4" stroke-width="0.6"/>
<rect x="582.5" y="287.5" width="6.2" height="6.2" fill="#cad8ab" stroke="#d2dcb4" stroke-width="0.6"/>
<rect x="588.3" y="285.4" width="6.2" height="6.2" fill="#cad8ab" stroke="#d2dcb4" stroke-width="0.6"/>
<rect x="593.9" y="285.4" width="6.2" height="6.2" fill="#cad8ab" stroke="#d2dcb4" stroke-width="0.6"/>
<rect x="599.9" y="285.4" width="6.2" height="6.2" fill="#cad8ab" stroke="#d2dcb4" stroke-width="0.6"/>
<rect x="605.5" y="285.4" width="6.2" height="6.2" fill="#cad8ab" stroke="#d2dcb4" stroke-width="0.6"/>
<rect x="611.4" y="285.4" width="6.2" height="6.2" fill="#cad8ab" stroke="#d2dcb4" stroke-width="0.6"/>
<rect x="616.9" y="297" width="6.2" height="6.2" fill="#cad8ab" stroke="#d2dcb4" stroke-width="0.6"/>
<rect x="622.8" y="336.2" width="6.2" height="6.2" fill="#cad8ab" stroke="#d2dcb4" stroke-width="0.6"/>
<rect x="628.5" y="336.2" width="6.2" height="6.2" fill="#cad8ab" stroke="#d2dcb4" stroke-width="0.6"/>
<rect x="634.2" y="336.2" width="6.2" height="6.2" fill="#cad8ab" stroke="#d2dcb4" stroke-width="0.6"/>
<rect x="639.9" y="336.2" width="6.2" height="6.2" fill="#cad8ab" stroke="#d2dcb4" stroke-width="0.6"/>
<rect x="645.8" y="336.2" width="6.2" height="6.2" fill="#cad8ab" stroke="#d2dcb4" stroke-width="0.6"/>
<path d="M436.4 238L455.8 238" stroke="#8d7b47" stroke-width="1.7" fill="none"/>
<path d="M446.1 235L449.1 238L446.1 241L443.1 238Z" fill="#9bad5f" stroke="#8a8048" stroke-width="0.6"/>
<text x="457.6" y="241.6" font-family='"Liberation Sans", sans-serif' font-size="8.65" fill="#0d0d0d" stroke="#0d0d0d" stroke-width="0.18">Chip 710009</text>
<path d="M436.4 255.3L455.8 255.3" stroke="#f6d4b2" stroke-width="1.7" fill="none"/>
<rect x="443.2" y="252.4" width="5.8" height="5.8" fill="#cad8ab" stroke="#d2dcb4" stroke-width="0.6"/>
<text x="457.6" y="258.9" font-family='"Liberation Sans", sans-serif' font-size="8.65" fill="#0d0d0d" stroke="#0d0d0d" stroke-width="0.18">Chip 710010</text>
<text transform="translate(31 99.8) scale(0.909 1)" text-anchor="middle" font-family='"Liberation Sans", sans-serif' font-weight="bold" font-size="14.85" fill="#000" stroke="#000" stroke-width="0.25">Control</text>
<text transform="translate(32.4 271.2) scale(0.91 1)" text-anchor="middle" font-family='"Liberation Sans", sans-serif' font-weight="bold" font-size="15.0" fill="#000" stroke="#000" stroke-width="0.25">T3-</text>
<text transform="translate(33.9 288.7) scale(0.955 1)" text-anchor="middle" font-family='"Liberation Sans", sans-serif' font-weight="bold" font-size="15.0" fill="#000" stroke="#000" stroke-width="0.25">treatment</text>
<text transform="translate(252.6 388.9) scale(1.0 1)" text-anchor="middle" font-family='"Liberation Sans", sans-serif' font-weight="bold" font-size="10.05" fill="#000" stroke="#000" stroke-width="0.25">Nucleotide Position</text>
<text transform="translate(556.3 388.5) scale(1.0 1)" text-anchor="middle" font-family='"Liberation Sans", sans-serif' font-weight="bold" font-size="10.05" fill="#000" stroke="#000" stroke-width="0.25">Nucleotide Position</text>
<text transform="translate(258.7 426) scale(0.895 1)" text-anchor="middle" font-family='"Liberation Sans", sans-serif' font-weight="bold" font-size="15.2" fill="#000" stroke="#000" stroke-width="0.25">PGPEP1</text>
<text transform="translate(560 424.2) scale(0.895 1)" text-anchor="middle" font-family='"Liberation Sans", sans-serif' font-weight="bold" font-size="15.0" fill="#000" stroke="#000" stroke-width="0.25">TFG</text>
<text transform="translate(81.0 86.1) rotate(-90) scale(0.86 1)" text-anchor="middle" font-family='"Liberation Sans", sans-serif' font-size="15.0" fill="#000" stroke="#000" stroke-width="0.2" xml:space="preserve" style="white-space:pre">ChIP-on-chip  Signal</text>
<text transform="translate(81.0 268.4) rotate(-90) scale(0.86 1)" text-anchor="middle" font-family='"Liberation Sans", sans-serif' font-size="15.0" fill="#000" stroke="#000" stroke-width="0.2" xml:space="preserve" style="white-space:pre">ChIP-on-chip  Signal</text>
<text x="98" y="8.61" text-anchor="end" font-family='"Liberation Sans", sans-serif' font-size="8.8" fill="#0d0d0d" stroke="#0d0d0d" stroke-width="0.18">3.5</text>
<text x="98" y="30.78" text-anchor="end" font-family='"Liberation Sans", sans-serif' font-size="8.8" fill="#0d0d0d" stroke="#0d0d0d" stroke-width="0.18">3</text>
<text x="98" y="52.95" text-anchor="end" font-family='"Liberation Sans", sans-serif' font-size="8.8" fill="#0d0d0d" stroke="#0d0d0d" stroke-width="0.18">2.5</text>
<text x="98" y="75.12" text-anchor="end" font-family='"Liberation Sans", sans-serif' font-size="8.8" fill="#0d0d0d" stroke="#0d0d0d" stroke-width="0.18">2</text>
<text x="98" y="97.29" text-anchor="end" font-family='"Liberation Sans", sans-serif' font-size="8.8" fill="#0d0d0d" stroke="#0d0d0d" stroke-width="0.18">1.5</text>
<text x="98" y="119.46" text-anchor="end" font-family='"Liberation Sans", sans-serif' font-size="8.8" fill="#0d0d0d" stroke="#0d0d0d" stroke-width="0.18">1</text>
<text x="98" y="141.63" text-anchor="end" font-family='"Liberation Sans", sans-serif' font-size="8.8" fill="#0d0d0d" stroke="#0d0d0d" stroke-width="0.18">0.5</text>
<text x="98" y="163.8" text-anchor="end" font-family='"Liberation Sans", sans-serif' font-size="8.8" fill="#0d0d0d" stroke="#0d0d0d" stroke-width="0.18">0</text>
<text x="98" y="185.97" text-anchor="end" font-family='"Liberation Sans", sans-serif' font-size="8.8" fill="#0d0d0d" stroke="#0d0d0d" stroke-width="0.18">-0.5</text>
<text x="106.8" y="174.5" text-anchor="middle" font-family='"Liberation Serif", serif' font-size="9.5" fill="#1c1c1c">0</text>
<text x="137.02" y="174.5" text-anchor="middle" font-family='"Liberation Serif", serif' font-size="9.5" fill="#1c1c1c">1000</text>
<text x="167.24" y="174.5" text-anchor="middle" font-family='"Liberation Serif", serif' font-size="9.5" fill="#1c1c1c">2000</text>
<text x="197.46" y="174.5" text-anchor="middle" font-family='"Liberation Serif", serif' font-size="9.5" fill="#1c1c1c">3000</text>
<text x="227.68" y="174.5" text-anchor="middle" font-family='"Liberation Serif", serif' font-size="9.5" fill="#1c1c1c">4000</text>
<text x="257.9" y="174.5" text-anchor="middle" font-family='"Liberation Serif", serif' font-size="9.5" fill="#1c1c1c">5000</text>
<text x="288.12" y="174.5" text-anchor="middle" font-family='"Liberation Serif", serif' font-size="9.5" fill="#1c1c1c">6000</text>
<text x="318.34" y="174.5" text-anchor="middle" font-family='"Liberation Serif", serif' font-size="9.5" fill="#1c1c1c">7000</text>
<text x="348.56" y="174.5" text-anchor="middle" font-family='"Liberation Serif", serif' font-size="9.5" fill="#1c1c1c">8000</text>
<text transform="translate(272.4 143.2) scale(0.845 1)" text-anchor="middle" font-family='"Liberation Sans", sans-serif' font-weight="bold" font-size="10.1" fill="#000" stroke="#000" stroke-width="0.35">PSS</text>
<path d="M271.3 145.5H275.1V154H277.2L273.2 158.3L269.2 154H271.3Z" fill="#000"/>
<text x="413.8" y="7.3" text-anchor="end" font-family='"Liberation Sans", sans-serif' font-size="8.8" fill="#0d0d0d" stroke="#0d0d0d" stroke-width="0.18">1.5</text>
<text x="413.8" y="46.2" text-anchor="end" font-family='"Liberation Sans", sans-serif' font-size="8.8" fill="#0d0d0d" stroke="#0d0d0d" stroke-width="0.18">1</text>
<text x="413.8" y="85.1" text-anchor="end" font-family='"Liberation Sans", sans-serif' font-size="8.8" fill="#0d0d0d" stroke="#0d0d0d" stroke-width="0.18">0.5</text>
<text x="413.8" y="124" text-anchor="end" font-family='"Liberation Sans", sans-serif' font-size="8.8" fill="#0d0d0d" stroke="#0d0d0d" stroke-width="0.18">0</text>
<text x="413.8" y="162.9" text-anchor="end" font-family='"Liberation Sans", sans-serif' font-size="8.8" fill="#0d0d0d" stroke="#0d0d0d" stroke-width="0.18">-0.5</text>
<text x="413.8" y="201.8" text-anchor="end" font-family='"Liberation Sans", sans-serif' font-size="8.8" fill="#0d0d0d" stroke="#0d0d0d" stroke-width="0.18">-1</text>
<text x="422.9" y="135.8" text-anchor="middle" font-family='"Liberation Serif", serif' font-size="9.5" fill="#1c1c1c">0</text>
<text x="453.1" y="135.8" text-anchor="middle" font-family='"Liberation Serif", serif' font-size="9.5" fill="#1c1c1c">1000</text>
<text x="483.3" y="135.8" text-anchor="middle" font-family='"Liberation Serif", serif' font-size="9.5" fill="#1c1c1c">2000</text>
<text x="513.5" y="135.8" text-anchor="middle" font-family='"Liberation Serif", serif' font-size="9.5" fill="#1c1c1c">3000</text>
<text x="543.7" y="135.8" text-anchor="middle" font-family='"Liberation Serif", serif' font-size="9.5" fill="#1c1c1c">4000</text>
<text x="573.9" y="135.8" text-anchor="middle" font-family='"Liberation Serif", serif' font-size="9.5" fill="#1c1c1c">5000</text>
<text x="604.1" y="135.8" text-anchor="middle" font-family='"Liberation Serif", serif' font-size="9.5" fill="#1c1c1c">6000</text>
<text x="634.3" y="135.8" text-anchor="middle" font-family='"Liberation Serif", serif' font-size="9.5" fill="#1c1c1c">7000</text>
<text x="664.5" y="135.8" text-anchor="middle" font-family='"Liberation Serif", serif' font-size="9.5" fill="#1c1c1c">8000</text>
<text transform="translate(588 104.6) scale(0.845 1)" text-anchor="middle" font-family='"Liberation Sans", sans-serif' font-weight="bold" font-size="10.1" fill="#000" stroke="#000" stroke-width="0.35">PSS</text>
<path d="M586.55 107H590.85V115H592.9L588.7 119.3L584.5 115H586.55Z" fill="#000"/>
<text x="98" y="200.2" text-anchor="end" font-family='"Liberation Sans", sans-serif' font-size="8.8" fill="#0d0d0d" stroke="#0d0d0d" stroke-width="0.18">3</text>
<text x="98" y="225.6" text-anchor="end" font-family='"Liberation Sans", sans-serif' font-size="8.8" fill="#0d0d0d" stroke="#0d0d0d" stroke-width="0.18">2.5</text>
<text x="98" y="251" text-anchor="end" font-family='"Liberation Sans", sans-serif' font-size="8.8" fill="#0d0d0d" stroke="#0d0d0d" stroke-width="0.18">2</text>
<text x="98" y="276.4" text-anchor="end" font-family='"Liberation Sans", sans-serif' font-size="8.8" fill="#0d0d0d" stroke="#0d0d0d" stroke-width="0.18">1.5</text>
<text x="98" y="301.8" text-anchor="end" font-family='"Liberation Sans", sans-serif' font-size="8.8" fill="#0d0d0d" stroke="#0d0d0d" stroke-width="0.18">1</text>
<text x="98" y="327.2" text-anchor="end" font-family='"Liberation Sans", sans-serif' font-size="8.8" fill="#0d0d0d" stroke="#0d0d0d" stroke-width="0.18">0.5</text>
<text x="98" y="352.6" text-anchor="end" font-family='"Liberation Sans", sans-serif' font-size="8.8" fill="#0d0d0d" stroke="#0d0d0d" stroke-width="0.18">0</text>
<text x="98" y="378" text-anchor="end" font-family='"Liberation Sans", sans-serif' font-size="8.8" fill="#0d0d0d" stroke="#0d0d0d" stroke-width="0.18">-0.5</text>
<text x="106.8" y="363.3" text-anchor="middle" font-family='"Liberation Serif", serif' font-size="9.5" fill="#1c1c1c">0</text>
<text x="138.8" y="363.3" text-anchor="middle" font-family='"Liberation Serif", serif' font-size="9.5" fill="#1c1c1c">1000</text>
<text x="170.8" y="363.3" text-anchor="middle" font-family='"Liberation Serif", serif' font-size="9.5" fill="#1c1c1c">2000</text>
<text x="202.8" y="363.3" text-anchor="middle" font-family='"Liberation Serif", serif' font-size="9.5" fill="#1c1c1c">3000</text>
<text x="234.8" y="363.3" text-anchor="middle" font-family='"Liberation Serif", serif' font-size="9.5" fill="#1c1c1c">4000</text>
<text x="266.8" y="363.3" text-anchor="middle" font-family='"Liberation Serif", serif' font-size="9.5" fill="#1c1c1c">5000</text>
<text x="298.8" y="363.3" text-anchor="middle" font-family='"Liberation Serif", serif' font-size="9.5" fill="#1c1c1c">6000</text>
<text x="330.8" y="363.3" text-anchor="middle" font-family='"Liberation Serif", serif' font-size="9.5" fill="#1c1c1c">7000</text>
<text x="362.8" y="363.3" text-anchor="middle" font-family='"Liberation Serif", serif' font-size="9.5" fill="#1c1c1c">8000</text>
<text transform="translate(281.9 331.9) scale(0.845 1)" text-anchor="middle" font-family='"Liberation Sans", sans-serif' font-weight="bold" font-size="10.1" fill="#000" stroke="#000" stroke-width="0.35">PSS</text>
<path d="M280.65 334.3H284.95V342.4H287L282.8 346.7L278.6 342.4H280.65Z" fill="#000"/>
<text x="419" y="230.14" text-anchor="end" font-family='"Liberation Sans", sans-serif' font-size="8.8" fill="#0d0d0d" stroke="#0d0d0d" stroke-width="0.18">2</text>
<text x="419" y="260.78" text-anchor="end" font-family='"Liberation Sans", sans-serif' font-size="8.8" fill="#0d0d0d" stroke="#0d0d0d" stroke-width="0.18">1.5</text>
<text x="419" y="291.42" text-anchor="end" font-family='"Liberation Sans", sans-serif' font-size="8.8" fill="#0d0d0d" stroke="#0d0d0d" stroke-width="0.18">1</text>
<text x="419" y="322.06" text-anchor="end" font-family='"Liberation Sans", sans-serif' font-size="8.8" fill="#0d0d0d" stroke="#0d0d0d" stroke-width="0.18">0.5</text>
<text x="419" y="352.7" text-anchor="end" font-family='"Liberation Sans", sans-serif' font-size="8.8" fill="#0d0d0d" stroke="#0d0d0d" stroke-width="0.18">0</text>
<text x="419" y="383.34" text-anchor="end" font-family='"Liberation Sans", sans-serif' font-size="8.8" fill="#0d0d0d" stroke="#0d0d0d" stroke-width="0.18">-0.5</text>
<text x="428.5" y="364.3" text-anchor="middle" font-family='"Liberation Sans", sans-serif' font-size="8.8" fill="#0d0d0d" stroke="#0d0d0d" stroke-width="0.18">0</text>
<text x="456.45" y="364.3" text-anchor="middle" font-family='"Liberation Sans", sans-serif' font-size="8.8" fill="#0d0d0d" stroke="#0d0d0d" stroke-width="0.18">1000</text>
<text x="484.4" y="364.3" text-anchor="middle" font-family='"Liberation Sans", sans-serif' font-size="8.8" fill="#0d0d0d" stroke="#0d0d0d" stroke-width="0.18">2000</text>
<text x="512.35" y="364.3" text-anchor="middle" font-family='"Liberation Sans", sans-serif' font-size="8.8" fill="#0d0d0d" stroke="#0d0d0d" stroke-width="0.18">3000</text>
<text x="540.3" y="364.3" text-anchor="middle" font-family='"Liberation Sans", sans-serif' font-size="8.8" fill="#0d0d0d" stroke="#0d0d0d" stroke-width="0.18">4000</text>
<text x="568.25" y="364.3" text-anchor="middle" font-family='"Liberation Sans", sans-serif' font-size="8.8" fill="#0d0d0d" stroke="#0d0d0d" stroke-width="0.18">5000</text>
<text x="596.2" y="364.3" text-anchor="middle" font-family='"Liberation Sans", sans-serif' font-size="8.8" fill="#0d0d0d" stroke="#0d0d0d" stroke-width="0.18">6000</text>
<text x="624.15" y="364.3" text-anchor="middle" font-family='"Liberation Sans", sans-serif' font-size="8.8" fill="#0d0d0d" stroke="#0d0d0d" stroke-width="0.18">7000</text>
<text x="652.1" y="364.3" text-anchor="middle" font-family='"Liberation Sans", sans-serif' font-size="8.8" fill="#0d0d0d" stroke="#0d0d0d" stroke-width="0.18">8000</text>
<text transform="translate(580.7 331.9) scale(0.845 1)" text-anchor="middle" font-family='"Liberation Sans", sans-serif' font-weight="bold" font-size="10.1" fill="#000" stroke="#000" stroke-width="0.35">PSS</text>
<path d="M579.25 334.3H583.55V342.4H585.6L581.4 346.7L577.2 342.4H579.25Z" fill="#000"/>
</svg>
</body></html>
